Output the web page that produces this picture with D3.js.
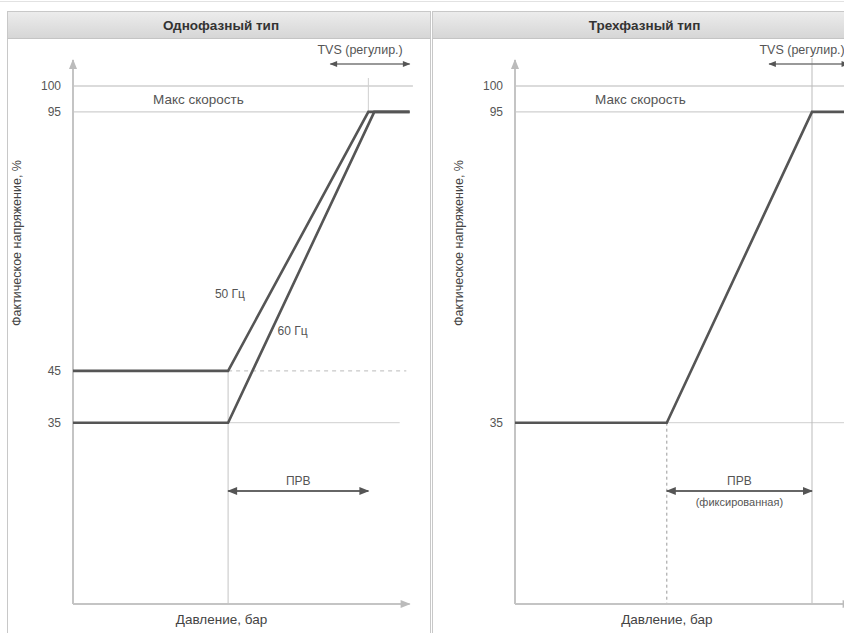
<!DOCTYPE html>
<html>
<head>
<meta charset="utf-8">
<script src="https://cdn.jsdelivr.net/npm/d3@7"></script>
<style>
  html, body { margin: 0; padding: 0; background: #fff; }
  svg { display: block; font-family: "Liberation Sans", Arial, sans-serif; }
</style>
</head>
<body>
<svg id="chart" width="844" height="633"></svg>
<script>
// Panel titles
const panelTitles = ["Однофазный тип", "Трехфазный тип"];

// Y tick values (%) for each panel
const yTicksSingle = [100, 95, 45, 35];
const yTicksThree = [100, 95, 35];

// Voltage curves: [pressure (relative units), voltage %]
const hz50 = [[0, 45], [47, 45], [89.5, 95], [102, 95]];
const hz60 = [[0, 35], [47, 35], [91.3, 95], [102, 95]];
const threePhase = [[0, 35], [46, 35], [90, 95], [100, 95]];

// Range markers: [start, end] in pressure units
const tvsSingle = [78, 102];
const tvsThree = [77, 101];
const prvSingle = [47, 89.5];
const prvThree = [46, 90];

// Texts
const yAxisTitle = "Фактическое напряжение, %";
const xAxisTitle = "Давление, бар";
const maxSpeedLabel = "Макс скорость";
const tvsLabel = "TVS (регулир.)";
const prvLabel = "ПРВ";
const prvFixedLabel = "(фиксированная)";
const seriesLabels = ["50 Гц", "60 Гц"];

const svg = d3.select("#chart");
const lineColor = "#555";
const gridColor = "#cfcfcf";
const textColor = "#555";

// Header gradient
const defs = svg.append("defs");
const grad = defs.append("linearGradient").attr("id", "hdr").attr("x1", 0).attr("y1", 0).attr("x2", 0).attr("y2", 1);
grad.append("stop").attr("offset", "0%").attr("stop-color", "#ececec");
grad.append("stop").attr("offset", "100%").attr("stop-color", "#d6d6d6");

defs.append("marker").attr("id", "arr").attr("viewBox", "0 0 10 10")
  .attr("refX", 9).attr("refY", 5).attr("markerWidth", 7).attr("markerHeight", 5)
  .attr("orient", "auto-start-reverse")
  .append("path").attr("d", "M0,1 L10,5 L0,9 Z").attr("fill", lineColor);

defs.append("marker").attr("id", "axarr").attr("viewBox", "0 0 10 10")
  .attr("refX", 9).attr("refY", 5).attr("markerWidth", 7).attr("markerHeight", 5)
  .attr("orient", "auto")
  .append("path").attr("d", "M0,1 L10,5 L0,9 Z").attr("fill", "#bbb");

// top thin rule
svg.append("line").attr("x1", 0).attr("x2", 844).attr("y1", 1.5).attr("y2", 1.5)
  .attr("stroke", "#e2e2e2");

const panels = [
  { left: 7.5, width: 423, axisX: 73, title: panelTitles[0], ticks: yTicksSingle, three: false },
  { left: 432.5, width: 420, axisX: 515, title: panelTitles[1], ticks: yTicksThree, three: true }
];

const y = d3.scaleLinear().domain([0, 100]).range([604, 86]);

panels.forEach(p => {
  const g = svg.append("g");
  const x = d3.scaleLinear().domain([0, 100]).range([p.axisX, p.axisX + 330]);

  // frame and header
  g.append("rect").attr("x", p.left).attr("y", 11.5).attr("width", p.width).attr("height", 640)
    .attr("fill", "#fff").attr("stroke", "#c8c8c8");
  g.append("rect").attr("x", p.left + 0.5).attr("y", 12).attr("width", p.width - 1).attr("height", 26)
    .attr("fill", "url(#hdr)");
  g.append("line").attr("x1", p.left).attr("x2", p.left + p.width).attr("y1", 38.5).attr("y2", 38.5)
    .attr("stroke", "#c4c4c4");
  g.append("text").attr("x", p.left + p.width / 2 + 2).attr("y", 30)
    .attr("text-anchor", "middle").attr("font-size", 13.5).attr("font-weight", "bold")
    .attr("fill", "#333").text(p.title);

  // horizontal guide lines
  g.append("line").attr("x1", x(0)).attr("x2", x(p.three ? 100 : 103))
    .attr("y1", y(100)).attr("y2", y(100)).attr("stroke", gridColor).attr("stroke-width", 1.5);
  g.append("line").attr("x1", x(0)).attr("x2", x(p.three ? 90 : 89.5))
    .attr("y1", y(95)).attr("y2", y(95)).attr("stroke", gridColor).attr("stroke-width", 1.2);

  const startX = p.three ? threePhase[1][0] : hz50[1][0];
  if (!p.three) {
    // dashed continuation of the 45 % level
    g.append("line").attr("x1", x(startX)).attr("x2", x(101))
      .attr("y1", y(45)).attr("y2", y(45)).attr("stroke", "#bbb").attr("stroke-dasharray", "4,4");
    g.append("line").attr("x1", x(startX)).attr("x2", x(99))
      .attr("y1", y(35)).attr("y2", y(35)).attr("stroke", gridColor);
    g.append("line").attr("x1", x(startX)).attr("x2", x(startX))
      .attr("y1", y(45)).attr("y2", y(0)).attr("stroke", "#c4c4c4");
    g.append("line").attr("x1", x(89.5)).attr("x2", x(89.5))
      .attr("y1", y(100) - 8).attr("y2", y(95)).attr("stroke", gridColor);
  } else {
    g.append("line").attr("x1", x(startX)).attr("x2", x(101))
      .attr("y1", y(35)).attr("y2", y(35)).attr("stroke", gridColor);
    g.append("line").attr("x1", x(startX)).attr("x2", x(startX))
      .attr("y1", y(35)).attr("y2", y(0)).attr("stroke", "#999").attr("stroke-dasharray", "3,3");
    g.append("line").attr("x1", x(90)).attr("x2", x(90))
      .attr("y1", 58).attr("y2", y(0)).attr("stroke", "#bbb");
  }

  // axes
  g.append("line").attr("x1", p.axisX).attr("x2", p.axisX).attr("y1", y(0)).attr("y2", 60)
    .attr("stroke", "#c4c4c4").attr("stroke-width", 2).attr("marker-end", "url(#axarr)");
  g.append("line").attr("x1", p.axisX).attr("x2", x(102)).attr("y1", y(0)).attr("y2", y(0))
    .attr("stroke", "#c4c4c4").attr("stroke-width", 2).attr("marker-end", "url(#axarr)");

  // y tick labels
  const yAxis = d3.axisLeft(y).tickValues(p.ticks).tickSize(0).tickPadding(12);
  const ya = g.append("g").attr("transform", `translate(${p.axisX},0)`).call(yAxis);
  ya.select(".domain").remove();
  ya.selectAll("text").attr("font-size", 12).style("fill", textColor)
    .attr("font-family", "Liberation Sans, Arial, sans-serif");

  // axis titles
  g.append("text").attr("transform", `translate(${p.axisX - 52},${243}) rotate(-90)`)
    .attr("text-anchor", "middle").attr("font-size", 12.5).attr("fill", "#444").text(yAxisTitle);
  g.append("text").attr("x", x(p.three ? 46 : 45)).attr("y", 624)
    .attr("text-anchor", "middle").attr("font-size", 13.5).attr("fill", "#444").text(xAxisTitle);

  // max speed label
  g.append("text").attr("x", x(38)).attr("y", y(95) - 8)
    .attr("text-anchor", "middle").attr("font-size", 13.5).attr("fill", textColor).text(maxSpeedLabel);

  // TVS range
  const tvs = p.three ? tvsThree : tvsSingle;
  g.append("line").attr("x1", x(tvs[0])).attr("x2", x(tvs[1])).attr("y1", 64).attr("y2", 64)
    .attr("stroke", "#777").attr("stroke-width", 1.5)
    .attr("marker-start", "url(#arr)").attr("marker-end", "url(#arr)");
  g.append("text").attr("x", x(87)).attr("y", 54)
    .attr("text-anchor", "middle").attr("font-size", 12.5).attr("fill", textColor).text(tvsLabel);

  // PRV range
  const prv = p.three ? prvThree : prvSingle;
  g.append("line").attr("x1", x(prv[0])).attr("x2", x(prv[1])).attr("y1", 491).attr("y2", 491)
    .attr("stroke", "#666").attr("stroke-width", 2)
    .attr("marker-start", "url(#arr)").attr("marker-end", "url(#arr)");
  g.append("text").attr("x", x((prv[0] + prv[1]) / 2)).attr("y", 485)
    .attr("text-anchor", "middle").attr("font-size", 12).attr("fill", textColor).text(prvLabel);
  if (p.three) {
    g.append("text").attr("x", x((prv[0] + prv[1]) / 2)).attr("y", 506)
      .attr("text-anchor", "middle").attr("font-size", 11).attr("fill", textColor).text(prvFixedLabel);
  }

  // curves
  const line = d3.line().x(d => x(d[0])).y(d => y(d[1]));
  const series = p.three ? [threePhase] : [hz50, hz60];
  g.selectAll("path.curve").data(series).join("path").attr("class", "curve")
    .attr("d", line).attr("fill", "none").attr("stroke", lineColor)
    .attr("stroke-width", 2.6).attr("stroke-linejoin", "miter");

  if (!p.three) {
    g.append("text").attr("x", x(43)).attr("y", y(59)).attr("font-size", 12)
      .attr("fill", textColor).text(seriesLabels[0]);
    g.append("text").attr("x", x(62)).attr("y", y(52)).attr("font-size", 12)
      .attr("fill", textColor).text(seriesLabels[1]);
  }
});
</script>
</body>
</html>
